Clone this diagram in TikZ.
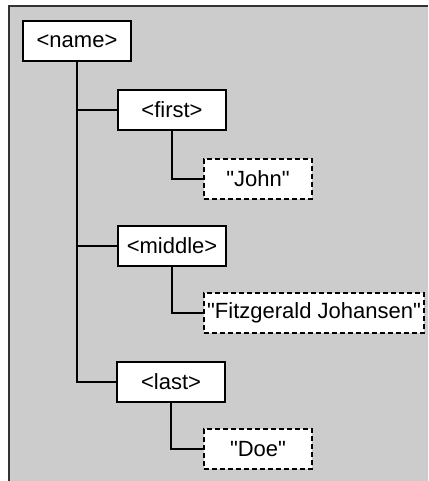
\documentclass[tikz,border=0pt]{standalone}
\usepackage{fontspec}
\setmainfont{Liberation Sans}
\definecolor{panelgray}{HTML}{CCCCCC}
\definecolor{edgegray}{HTML}{333333}
\newcommand{\qtext}[1]{\textquotedbl#1\textquotedbl}
\tikzset{
  elem/.style={draw,fill=white,line width=1.3pt,minimum width=108pt,minimum height=40pt,inner sep=3pt,font=\fontsize{22}{26}\selectfont},
  textleaf/.style={elem,dash pattern=on 5pt off 3pt},
  link/.style={line width=2pt}
}
\begin{document}
\begin{tikzpicture}[x=1pt,y=1pt]
        \useasboundingbox (0,0) rectangle (428,-481);
        \fill[panelgray] (9,-6) rectangle (428,-481);
        \draw[edgegray,line width=2pt] (9,-481) -- (9,-6) -- (428,-6);
        \node[elem] (name) at (77,-41) {<name>};
        \node[elem] (first) at (172,-110) {<first>};
        \node[textleaf] (john) at (258,-179) {\qtext{John}};
        \node[elem] (middle) at (172,-246) {<middle>};
        \node[textleaf,minimum width=220pt] (fitz) at (314,-313) {\qtext{Fitzgerald Johansen}};
        \node[elem] (last) at (171,-382) {<last>};
        \node[textleaf] (doe) at (258,-449) {\qtext{Doe}};
        \draw[link] (name) |- (first);
        \draw[link] (name) |- (middle);
        \draw[link] (name) |- (last);
        \draw[link] (first) |- (john);
        \draw[link] (middle) |- (fitz);
        \draw[link] (last) |- (doe);
      \end{tikzpicture}
\end{document}
